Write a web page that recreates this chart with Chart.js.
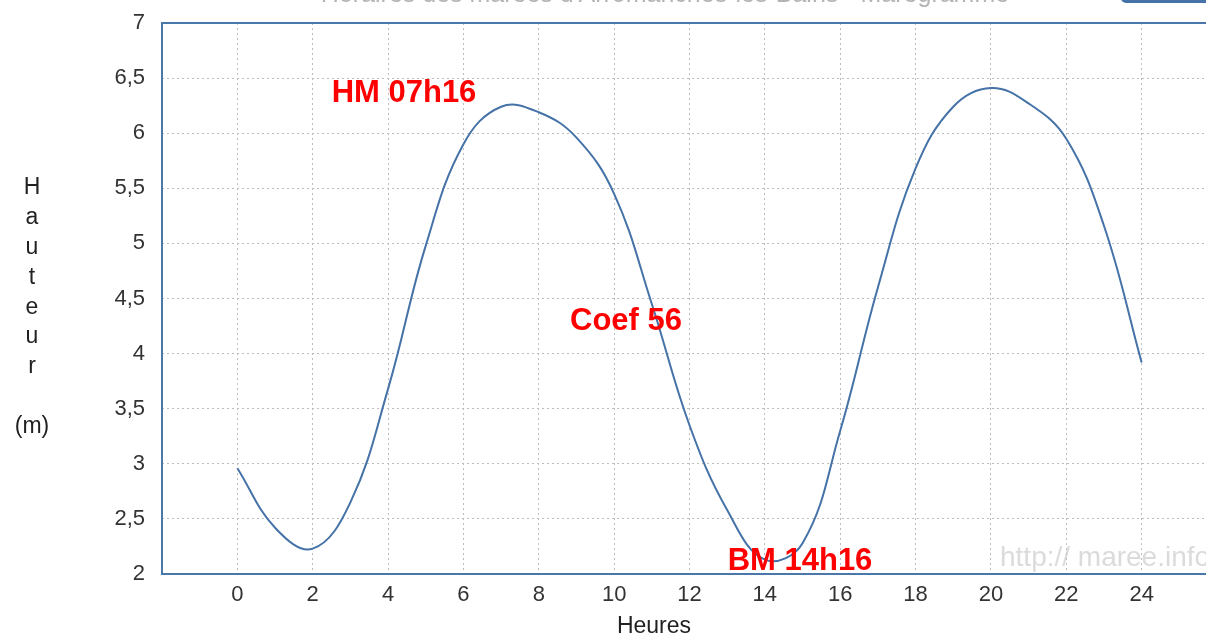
<!DOCTYPE html>
<html>
<head>
<meta charset="utf-8">
<title>Marégramme</title>
<script src="https://cdn.jsdelivr.net/npm/chart.js@4/dist/chart.umd.min.js"></script>
<style>
  html, body { margin: 0; padding: 0; background: #fff; overflow: hidden; width: 1206px; height: 638px; }
  #chart { position: absolute; left: 0; top: 0; }
</style>
</head>
<body>
<canvas id="chart" width="1240" height="638"></canvas>
<script>
const hours   = [0, 1, 2, 3, 4, 5, 6, 7, 8, 9, 10, 11, 12, 13, 14, 15, 16, 17, 18, 19, 20, 21, 22, 23, 24];
const heights = [2.96, 2.42, 2.23, 2.65, 3.68, 4.98, 5.90, 6.24, 6.19, 5.96, 5.45, 4.45, 3.35, 2.58, 2.13, 2.28, 3.30, 4.60, 5.68, 6.24, 6.41, 6.27, 5.95, 5.16, 3.92];
const xTicks = [0, 2, 4, 6, 8, 10, 12, 14, 16, 18, 20, 22, 24];
const yTicks = [2, 2.5, 3, 3.5, 4, 4.5, 5, 5.5, 6, 6.5, 7];

const title = "Horaires des marées d'Arromanches-les-Bains - Marégramme";
const annotations = [
  { text: 'HM 07h16', x: 404, y: 93 },
  { text: 'Coef 56', x: 626, y: 321 },
  { text: 'BM 14h16', x: 800, y: 561 }
];
const yLetters = ['H', 'a', 'u', 't', 'e', 'u', 'r'];

const blue = '#4572A7';
const font = '"Liberation Sans", Arial, sans-serif';

// extra drawing: frame, titles, labels, watermark
const decor = {
  id: 'decor',
  beforeDatasetsDraw(chart) {
    const ctx = chart.ctx, a = chart.chartArea;
    ctx.save();
    ctx.strokeStyle = '#4a78aa';
    ctx.lineWidth = 2;
    ctx.strokeRect(a.left, a.top, a.right - a.left, a.bottom - a.top);
    // watermark
    ctx.font = '28px ' + font;
    ctx.fillStyle = 'rgba(190,190,190,0.55)';
    ctx.textAlign = 'left';
    ctx.textBaseline = 'alphabetic';
    ctx.fillText('http:// maree.info', 1000, 566);
    ctx.restore();
  },
  afterDraw(chart) {
    const ctx = chart.ctx;
    ctx.save();
    // cut-off title and button at the top
    ctx.font = '25px ' + font;
    ctx.fillStyle = '#b4b4b4';
    ctx.textAlign = 'center';
    ctx.textBaseline = 'alphabetic';
    ctx.fillText(title, 665, 1.5);
    ctx.fillStyle = blue;
    ctx.beginPath();
    ctx.roundRect(1121, -20, 120, 23, 5);
    ctx.fill();

    // red annotations
    ctx.font = 'bold 31px ' + font;
    ctx.fillStyle = '#ff0000';
    ctx.textBaseline = 'middle';
    annotations.forEach(n => ctx.fillText(n.text, n.x, n.y));

    // y axis title, stacked letters
    ctx.font = '23px ' + font;
    ctx.fillStyle = '#222';
    yLetters.forEach((c, i) => ctx.fillText(c, 32, 188 + i * 29.8));
    ctx.fillText('(m)', 32, 427);
    // x axis title
    ctx.fillText('Heures', 654, 627);
    ctx.restore();
  }
};

new Chart(document.getElementById('chart'), {
  type: 'line',
  data: {
    datasets: [{
      data: hours.map((h, i) => ({ x: h, y: heights[i] })),
      borderColor: blue,
      borderWidth: 2,
      pointRadius: 0,
      fill: false,
      tension: 0.4
    }]
  },
  options: {
    responsive: false,
    animation: false,
    devicePixelRatio: 1,
    layout: { padding: { top: 23, right: 23, left: 0, bottom: 0 } },
    plugins: { legend: { display: false }, tooltip: { enabled: false }, title: { display: false } },
    scales: {
      x: {
        type: 'linear',
        min: -2,
        max: 26,
        afterBuildTicks: s => { s.ticks = [-2].concat(xTicks, [26]).map(v => ({ value: v })); },
        afterFit: s => { s.height = 64; s.paddingLeft = 0; s.paddingRight = 0; },
        ticks: {
          padding: 8,
          color: '#333',
          font: { family: font, size: 22 },
          maxRotation: 0,
          autoSkip: false,
          callback: v => xTicks.includes(v) ? String(v) : ''
        },
        grid: { color: '#bdbdbd', lineWidth: 1, drawTicks: false },
        border: { display: false, dash: [2, 3] }
      },
      y: {
        min: 2,
        max: 7,
        afterBuildTicks: s => { s.ticks = yTicks.map(v => ({ value: v })); },
        afterFit: s => { s.width = 162; s.paddingTop = 0; s.paddingBottom = 0; },
        ticks: {
          padding: 17,
          color: '#333',
          font: { family: font, size: 22 },
          callback: v => String(v).replace('.', ',')
        },
        grid: { color: '#bdbdbd', lineWidth: 1, drawTicks: false },
        border: { display: false, dash: [2, 3] }
      }
    }
  },
  plugins: [decor]
});
</script>
</body>
</html>
